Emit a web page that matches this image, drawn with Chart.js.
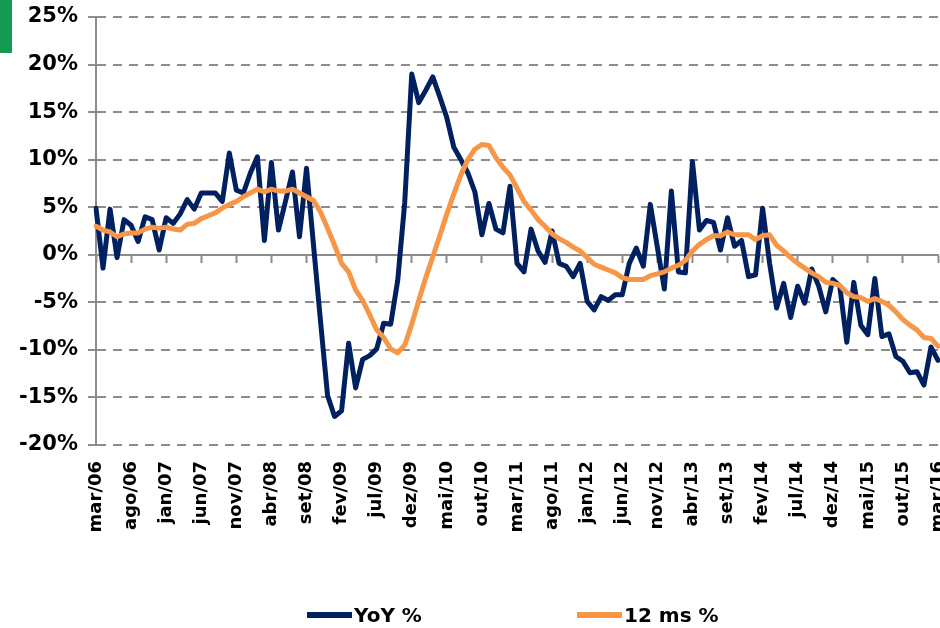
<!DOCTYPE html>
<html>
<head>
<meta charset="utf-8">
<script src="https://cdn.jsdelivr.net/npm/chart.js@4/dist/chart.umd.min.js"></script>
<style>
  html, body { margin: 0; padding: 0; background: #fff; }
  #wrap { position: relative; width: 940px; height: 628px; overflow: hidden; }
  #c { position: absolute; left: 0; top: 0; }
  #flag { position: absolute; left: 0; top: 0; width: 12px; height: 53px; background: #159a56; }
  .item { position: absolute; top: 603px; height: 24px; display: flex; align-items: center;
          font-family: "DejaVu Sans", sans-serif; font-weight: bold; font-size: 20px; color: #000; white-space: nowrap; }
  .swatch { display: inline-block; width: 45px; height: 6px; margin-right: 2px; }
</style>
</head>
<body>
<div id="wrap">
  <canvas id="c" width="940" height="628"></canvas>
  <div id="flag"></div>
  <div id="legend"></div>
</div>
<script>
// ---- data ----
const monthNames = ['jan','fev','mar','abr','mai','jun','jul','ago','set','out','nov','dez'];
const firstMonth = 2;      // mar
const firstYear = 2006;
const monthCount = 121;    // mar/06 .. mar/16
const tickEvery = 5;
const yTicks = [-20, -15, -10, -5, 0, 5, 10, 15, 20, 25];
const seriesNames = ['YoY %', '12 ms %'];

const yoy = [
  4.9, -1.4, 4.8, -0.3, 3.7, 3.1, 1.4, 4.0, 3.7, 0.5,
  3.9, 3.3, 4.3, 5.8, 4.8, 6.5, 6.5, 6.5, 5.6, 10.7,
  6.8, 6.5, 8.6, 10.3, 1.5, 9.7, 2.6, 5.6, 8.7, 1.9,
  9.1, 1.0, -7.0, -14.8, -17.0, -16.4, -9.3, -14.0, -11.0, -10.6,
  -9.9, -7.2, -7.3, -2.7, 5.5, 19.0, 16.0, 17.3, 18.7, 16.6,
  14.4, 11.3, 10.0, 8.6, 6.6, 2.1, 5.4, 2.7, 2.3, 7.2,
  -0.9, -1.8, 2.7, 0.4, -0.8, 2.5, -0.9, -1.2, -2.3, -0.9,
  -4.9, -5.8, -4.4, -4.8, -4.2, -4.2, -0.9, 0.7, -1.2, 5.3,
  0.8, -3.6, 6.7, -1.8, -1.9, 9.8, 2.6, 3.6, 3.4, 0.5,
  3.9, 0.9, 1.5, -2.3, -2.1, 4.9, -0.9, -5.6, -3.0, -6.6,
  -3.3, -5.1, -1.5, -3.3, -6.0, -2.6, -3.3, -9.2, -2.9, -7.4,
  -8.4, -2.5, -8.6, -8.3, -10.7, -11.2, -12.4, -12.3, -13.7, -9.7,
  -11.1
];

const ms12 = [
  3.0, 2.6, 2.4, 1.9, 2.2, 2.3, 2.3, 2.7, 2.9, 2.8,
  2.9, 2.7, 2.6, 3.2, 3.3, 3.8, 4.1, 4.4, 4.9, 5.3,
  5.6, 6.1, 6.5, 6.9, 6.6, 6.9, 6.7, 6.7, 6.9, 6.5,
  6.1, 5.7, 4.5, 2.8, 1.0, -0.9, -1.8, -3.7, -4.8, -6.3,
  -7.9, -8.7, -9.9, -10.3, -9.5, -7.3, -4.8, -2.4, -0.2, 2.0,
  4.3, 6.4, 8.4, 10.0, 11.1, 11.6, 11.5, 10.2, 9.2, 8.4,
  7.0, 5.6, 4.7, 3.7, 3.0, 2.2, 1.7, 1.3, 0.8, 0.4,
  -0.3, -1.0, -1.3, -1.6, -1.9, -2.4, -2.6, -2.6, -2.6, -2.2,
  -2.0, -1.8, -1.4, -1.1, -0.6, 0.4, 1.1, 1.6, 2.0, 2.0,
  2.4, 2.1, 2.1, 2.1, 1.6, 2.0, 2.1, 1.0, 0.4, -0.3,
  -0.9, -1.4, -1.9, -2.3, -2.9, -3.0, -3.2, -4.0, -4.4, -4.5,
  -4.9, -4.6, -4.9, -5.3, -6.0, -6.8, -7.4, -7.9, -8.7, -8.8,
  -9.6
];

const categories = [];
for (let k = 0; k < monthCount; k++) {
  const m = (firstMonth + k) % 12;
  const y = firstYear + Math.floor((firstMonth + k) / 12);
  categories.push(monthNames[m] + '/' + String(y % 100).padStart(2, '0'));
}

// ---- styles ----
const GRAY = '#8c8c8c';
const colors = ['#00205f', '#f79646'];

const chart = new Chart(document.getElementById('c'), {
  type: 'line',
  data: {
    labels: categories,
    datasets: [
      { label: seriesNames[0], data: yoy, borderColor: colors[0], backgroundColor: colors[0],
        borderWidth: 5, pointRadius: 0, tension: 0, order: 1,
        borderJoinStyle: 'round', borderCapStyle: 'round' },
      { label: seriesNames[1], data: ms12, borderColor: colors[1], backgroundColor: colors[1],
        borderWidth: 5, pointRadius: 0, tension: 0, order: 0,
        borderJoinStyle: 'round', borderCapStyle: 'round' }
    ]
  },
  options: {
    responsive: false,
    animation: false,
    devicePixelRatio: 1,
    layout: { padding: { top: 17, right: 2, left: 0, bottom: 0 } },
    plugins: { legend: { display: false }, tooltip: { enabled: false } },
    scales: {
      x: {
        type: 'category', position: 'bottom', offset: false,
        grid: { display: false, drawTicks: false },
        border: { display: false },
        ticks: {
          autoSkip: false, minRotation: 90, maxRotation: 90, padding: 16, color: '#000',
          font: { family: 'DejaVu Sans', weight: 'bold', size: 18 },
          callback: (v, i) => (i % tickEvery === 0 ? categories[i] : '')
        },
        afterFit: (s) => { s.height = 183; s.paddingLeft = 0; s.paddingRight = 0; }
      },
      x2: {
        type: 'category', position: { y: 0 }, offset: false,
        grid: {
          drawOnChartArea: false, drawTicks: true, tickLength: 7, tickWidth: 2,
          tickColor: (c) => (c.index % tickEvery === 0 ? GRAY : 'rgba(0,0,0,0)')
        },
        border: { display: true, color: GRAY, width: 2 },
        ticks: { display: false, autoSkip: false },
        afterFit: (s) => { s.paddingLeft = 0; s.paddingRight = 0; }
      },
      y: {
        min: yTicks[0], max: yTicks[yTicks.length - 1],
        afterBuildTicks: (s) => { s.ticks = yTicks.map(v => ({ value: v })); },
        grid: {
          color: (c) => (c.tick && c.tick.value === 0 ? 'rgba(0,0,0,0)' : GRAY),
          lineWidth: 2, drawTicks: true, tickLength: 8, tickColor: GRAY, tickWidth: 2
        },
        border: { display: true, color: GRAY, width: 2, dash: [9, 7] },
        ticks: {
          padding: 10, color: '#000',
          font: { family: 'DejaVu Sans', weight: 'bold', size: 21 },
          callback: (v) => v + '%'
        },
        afterFit: (s) => { s.width = 96; s.paddingTop = 0; s.paddingBottom = 0; }
      }
    }
  }
});

// ---- legend (HTML, from the datasets) ----
const legendLefts = [307, 577];
const legendEl = document.getElementById('legend');
chart.data.datasets.forEach((ds, i) => {
  const item = document.createElement('div');
  item.className = 'item';
  item.style.left = legendLefts[i] + 'px';
  const sw = document.createElement('span');
  sw.className = 'swatch';
  sw.style.background = ds.borderColor;
  const tx = document.createElement('span');
  tx.textContent = ds.label;
  item.appendChild(sw);
  item.appendChild(tx);
  legendEl.appendChild(item);
});
</script>
</body>
</html>
